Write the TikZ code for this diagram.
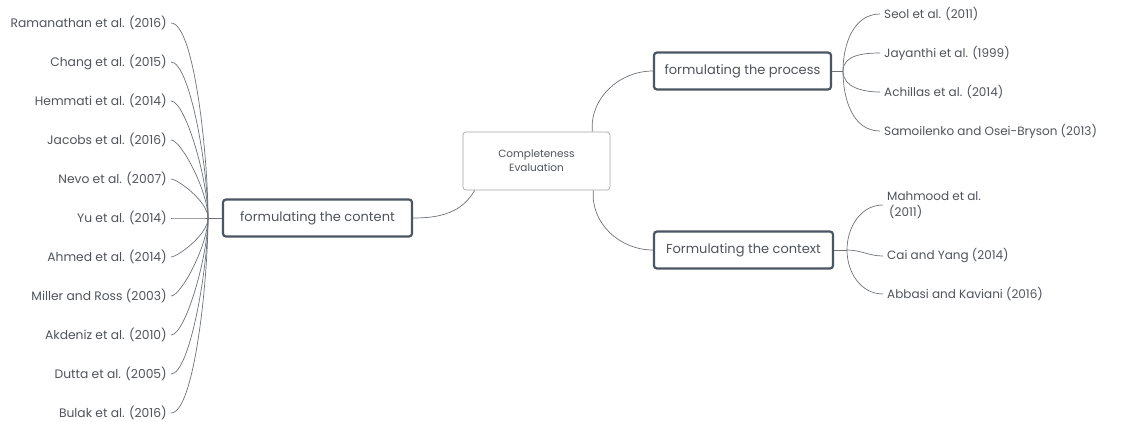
\documentclass[tikz,border=0pt]{standalone}
\usepackage{fontspec}
\setmainfont{Poppins}
\usetikzlibrary{positioning, calc}
\definecolor{linegray}{HTML}{6E7378}
\definecolor{textgray}{HTML}{505459}
\definecolor{boxblue}{HTML}{4A5663}

\begin{document}
\begin{tikzpicture}[x=1pt,y=1pt,
    every node/.style={text=textgray},
    topic/.style={draw=boxblue, line width=2.2pt, rounded corners=3pt, minimum height=37pt, font=\fontsize{13}{15}\selectfont},
    root/.style={draw=gray!70, line width=0.7pt, rounded corners=3pt, minimum width=147pt, minimum height=58pt, align=center, font=\fontsize{10.5}{14}\selectfont},
    leafl/.style={anchor=east, inner xsep=4pt, inner ysep=0pt, font=\fontsize{12.3}{14}\selectfont},
    leafr/.style={anchor=west, inner xsep=4pt, inner ysep=0pt, align=left, font=\fontsize{12}{16}\selectfont},
    branch/.style={draw=linegray, line width=0.7pt}]
  \path[fill=white] (0,0) rectangle (1136,-421);

  \node[root] (eval) at (536.5,-161) {Completeness\\Evaluation};
  \node[topic, minimum width=189pt] (content) at (317.5,-218) {formulating the content};
  \node[topic, minimum width=177pt] (process) at (742.5,-71) {formulating the process};
  \node[topic, minimum width=179pt] (context) at (743.5,-250) {Formulating the context};

  \coordinate (jl) at (208,-218);
  \coordinate (jp) at (843,-71);
  \coordinate (jc) at (847,-250);

  \draw[branch] (content.east) to[out=0,in=240] ([xshift=12pt]eval.south west);
  \draw[branch] ([xshift=-18pt]eval.north east) to[out=95,in=180] (process.west);
  \draw[branch] ([xshift=-17pt]eval.south east) to[out=-95,in=180] (context.west);

  % content references
  \draw[branch] (content.west) -- (jl);
  \foreach \txt [count=\i from 0] in {Ramanathan et al. (2016), Chang et al. (2015),
      Hemmati et al. (2014), Jacobs et al. (2016), Nevo et al. (2007), Yu et al. (2014),
      Ahmed et al. (2014), Miller and Ross (2003), Akdeniz et al. (2010),
      Dutta et al. (2005), Bulak et al. (2016)} {
    \node[leafl] (l\i) at (171,-23-39*\i) {\txt};
    \pgfmathsetmacro{\ang}{\i<5 ? 90 : (\i>5 ? -90 : 180)}
    \draw[branch] (l\i.east) to[out=0,in=\ang,out looseness=0.3,in looseness=0.8] (jl);
  }

  % process references
  \draw[branch] (process.east) -- (jp);
  \node[leafr] (p1) at (880,-14) {Seol et al. (2011)};
  \node[leafr] (p2) at (880,-53) {Jayanthi et al. (1999)};
  \node[leafr] (p3) at (880,-92) {Achillas et al. (2014)};
  \node[leafr] (p4) at (880,-131) {Samoilenko and Osei-Bryson (2013)};
  \draw[branch] (jp) to[out=90,in=180] (p1.west);
  \draw[branch] (jp) to[out=90,in=180] (p2.west);
  \draw[branch] (jp) to[out=-90,in=180] (p3.west);
  \draw[branch] (jp) to[out=-90,in=180] (p4.west);

  % context references
  \draw[branch] (context.east) -- (jc);
  \node[leafr] (c1) at (883,-205) {Mahmood et al.\\\hspace{2pt}(2011)};
  \node[leafr] (c2) at (883,-256) {Cai and Yang (2014)};
  \node[leafr] (c3) at (883,-294) {Abbasi and Kaviani (2016)};
  \draw[branch] (jc) to[out=90,in=180] (c1.west);
  \draw[branch] (jc) to[out=0,in=180] (c2.west);
  \draw[branch] (jc) to[out=-90,in=180] (c3.west);
\end{tikzpicture}
\end{document}
